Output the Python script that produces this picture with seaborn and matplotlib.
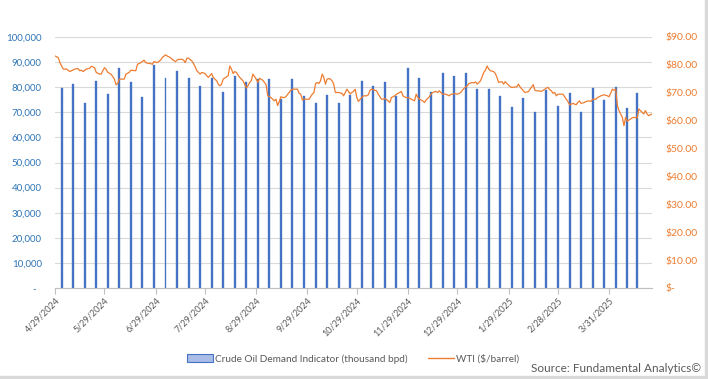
import seaborn as sns
import matplotlib.pyplot as plt
from matplotlib.patches import Patch, Rectangle
from matplotlib.lines import Line2D
import pandas as pd

# weekly crude oil demand indicator (thousand bpd)
demand_dates = [
    "2024-05-03", "2024-05-10", "2024-05-17", "2024-05-24", "2024-05-31",
    "2024-06-07", "2024-06-14", "2024-06-21", "2024-06-28", "2024-07-05",
    "2024-07-12", "2024-07-19", "2024-07-26", "2024-08-02", "2024-08-09",
    "2024-08-16", "2024-08-23", "2024-08-30", "2024-09-06", "2024-09-13",
    "2024-09-20", "2024-09-27", "2024-10-04", "2024-10-11", "2024-10-18",
    "2024-10-25", "2024-11-01", "2024-11-08", "2024-11-15", "2024-11-22",
    "2024-11-29", "2024-12-06", "2024-12-13", "2024-12-20", "2024-12-27",
    "2025-01-03", "2025-01-10", "2025-01-17", "2025-01-24", "2025-01-31",
    "2025-02-07", "2025-02-14", "2025-02-21", "2025-02-28", "2025-03-07",
    "2025-03-14", "2025-03-21", "2025-03-28", "2025-04-04", "2025-04-11",
    "2025-04-17",
]
demand_values = [
    79500, 81100, 73700, 82300, 77200, 87700, 81900, 76000, 88900, 83800,
    86600, 83800, 80300, 83800, 78000, 84600, 81900, 83100, 83400, 75300,
    83400, 76400, 73700, 76800, 73700, 76800, 82300, 80300, 81900, 76400,
    87700, 83800, 78000, 85800, 84600, 85800, 79100, 79100, 76400, 72100,
    75600, 70100, 78700, 72500, 77600, 70100, 79500, 74800, 79900, 71700,
    77600,
]

# WTI ($/barrel)
wti_dates = [
    "2024-04-29", "2024-05-01", "2024-05-02", "2024-05-04", "2024-05-06", "2024-05-08",
    "2024-05-09", "2024-05-11", "2024-05-13", "2024-05-14", "2024-05-15", "2024-05-16",
    "2024-05-18", "2024-05-20", "2024-05-21", "2024-05-23", "2024-05-24", "2024-05-26",
    "2024-05-27", "2024-05-28", "2024-05-29", "2024-05-30", "2024-05-31", "2024-06-02",
    "2024-06-04", "2024-06-05", "2024-06-06", "2024-06-07", "2024-06-10", "2024-06-11",
    "2024-06-13", "2024-06-14", "2024-06-17", "2024-06-18", "2024-06-20", "2024-06-22",
    "2024-06-23", "2024-06-25", "2024-06-26", "2024-06-27", "2024-06-28", "2024-06-30",
    "2024-07-02", "2024-07-03", "2024-07-05", "2024-07-06", "2024-07-08", "2024-07-09",
    "2024-07-11", "2024-07-12", "2024-07-13", "2024-07-15", "2024-07-16", "2024-07-17",
    "2024-07-18", "2024-07-19", "2024-07-21", "2024-07-22", "2024-07-23", "2024-07-24",
    "2024-07-26", "2024-07-27", "2024-07-29", "2024-07-30", "2024-07-31", "2024-08-02",
    "2024-08-03", "2024-08-05", "2024-08-06", "2024-08-07", "2024-08-08", "2024-08-09",
    "2024-08-11", "2024-08-12", "2024-08-13", "2024-08-14", "2024-08-15", "2024-08-16",
    "2024-08-17", "2024-08-19", "2024-08-21", "2024-08-22", "2024-08-23", "2024-08-24",
    "2024-08-25", "2024-08-26", "2024-08-27", "2024-08-29", "2024-08-30", "2024-08-31",
    "2024-09-02", "2024-09-03", "2024-09-04", "2024-09-05", "2024-09-07", "2024-09-08",
    "2024-09-09", "2024-09-10", "2024-09-11", "2024-09-12", "2024-09-13", "2024-09-14",
    "2024-09-15", "2024-09-16", "2024-09-18", "2024-09-19", "2024-09-20", "2024-09-22",
    "2024-09-23", "2024-09-24", "2024-09-25", "2024-09-26", "2024-09-27", "2024-09-29",
    "2024-09-30", "2024-10-01", "2024-10-02", "2024-10-03", "2024-10-04", "2024-10-05",
    "2024-10-06", "2024-10-07", "2024-10-08", "2024-10-09", "2024-10-10", "2024-10-11",
    "2024-10-12", "2024-10-13", "2024-10-14", "2024-10-15", "2024-10-16", "2024-10-18",
    "2024-10-20", "2024-10-21", "2024-10-22", "2024-10-23", "2024-10-25", "2024-10-26",
    "2024-10-27", "2024-10-28", "2024-10-29", "2024-10-30", "2024-11-01", "2024-11-02",
    "2024-11-04", "2024-11-05", "2024-11-06", "2024-11-07", "2024-11-09", "2024-11-10",
    "2024-11-11", "2024-11-13", "2024-11-14", "2024-11-15", "2024-11-17", "2024-11-18",
    "2024-11-19", "2024-11-21", "2024-11-22", "2024-11-24", "2024-11-25", "2024-11-26",
    "2024-11-27", "2024-11-28", "2024-11-30", "2024-12-01", "2024-12-03", "2024-12-04",
    "2024-12-05", "2024-12-06", "2024-12-08", "2024-12-09", "2024-12-10", "2024-12-12",
    "2024-12-13", "2024-12-14", "2024-12-16", "2024-12-17", "2024-12-18", "2024-12-20",
    "2024-12-22", "2024-12-24", "2024-12-25", "2024-12-27", "2024-12-29", "2024-12-31",
    "2025-01-01", "2025-01-02", "2025-01-04", "2025-01-05", "2025-01-07", "2025-01-08",
    "2025-01-09", "2025-01-10", "2025-01-12", "2025-01-13", "2025-01-14", "2025-01-15",
    "2025-01-16", "2025-01-17", "2025-01-18", "2025-01-20", "2025-01-21", "2025-01-22",
    "2025-01-23", "2025-01-25", "2025-01-26", "2025-01-27", "2025-01-28", "2025-01-30",
    "2025-01-31", "2025-02-02", "2025-02-03", "2025-02-04", "2025-02-05", "2025-02-07",
    "2025-02-08", "2025-02-10", "2025-02-12", "2025-02-13", "2025-02-14", "2025-02-15",
    "2025-02-16", "2025-02-18", "2025-02-19", "2025-02-21", "2025-02-22", "2025-02-23",
    "2025-02-24", "2025-02-25", "2025-02-26", "2025-02-27", "2025-02-28", "2025-03-03",
    "2025-03-04", "2025-03-05", "2025-03-06", "2025-03-07", "2025-03-08", "2025-03-09",
    "2025-03-11", "2025-03-12", "2025-03-13", "2025-03-14", "2025-03-16", "2025-03-17",
    "2025-03-19", "2025-03-20", "2025-03-21", "2025-03-23", "2025-03-24", "2025-03-26",
    "2025-03-28", "2025-03-30", "2025-03-31", "2025-04-02", "2025-04-03", "2025-04-04",
    "2025-04-05", "2025-04-06", "2025-04-08", "2025-04-09", "2025-04-10", "2025-04-11",
    "2025-04-12", "2025-04-14", "2025-04-15", "2025-04-17", "2025-04-18", "2025-04-19",
    "2025-04-20", "2025-04-21", "2025-04-22", "2025-04-23", "2025-04-24", "2025-04-26",
]
wti_price = [
    83.2, 82.6, 80.8, 78.5, 78.5, 77.6,
    77.9, 78.5, 78.7, 77.9, 78.1, 77.6,
    78.5, 78.8, 79.5, 79.0, 77.3, 76.7,
    76.7, 77.9, 79.0, 78.4, 77.3, 76.7,
    74.9, 72.9, 73.3, 74.9, 74.9, 76.7,
    77.3, 78.1, 77.9, 80.2, 80.8, 81.7,
    80.8, 80.5, 80.5, 80.2, 81.2, 80.8,
    81.7, 82.6, 83.6, 83.2, 82.6, 82.0,
    81.2, 81.7, 82.0, 82.0, 81.7, 80.8,
    82.4, 82.4, 81.4, 80.5, 79.3, 77.9,
    76.7, 77.3, 76.9, 76.1, 75.5, 76.9,
    75.5, 74.3, 73.1, 72.5, 73.1, 74.9,
    75.7, 76.1, 79.6, 78.5, 76.9, 77.6,
    77.3, 75.5, 74.3, 73.1, 71.7, 72.5,
    73.7, 74.3, 76.7, 74.9, 73.7, 75.2,
    74.5, 73.7, 72.9, 68.9, 68.3, 67.7,
    67.1, 67.7, 65.4, 66.9, 68.6, 68.3,
    68.3, 68.6, 70.1, 70.9, 71.3, 71.3,
    71.3, 69.8, 69.5, 67.4, 67.7, 67.7,
    67.7, 68.6, 69.5, 70.1, 73.3, 73.7,
    73.3, 74.3, 76.7, 75.5, 73.1, 74.9,
    75.1, 74.9, 74.3, 73.1, 70.1, 70.1,
    69.8, 68.9, 70.1, 71.3, 69.6, 70.1,
    70.5, 71.3, 68.3, 66.9, 68.3, 68.9,
    68.9, 69.3, 70.9, 71.3, 70.9, 70.7,
    69.5, 67.7, 67.7, 68.0, 67.1, 66.5,
    68.3, 68.9, 69.5, 70.1, 70.5, 68.9,
    68.5, 68.3, 68.1, 67.7, 67.1, 69.5,
    68.3, 67.7, 67.1, 66.5, 67.4, 68.6,
    69.5, 70.1, 70.5, 70.1, 70.7, 69.5,
    69.5, 68.9, 69.4, 69.7, 69.5, 70.1,
    70.9, 71.6, 72.5, 73.3, 73.7, 73.5,
    73.9, 73.1, 74.3, 75.7, 77.3, 78.1,
    79.6, 78.5, 77.9, 77.6, 76.9, 75.5,
    73.7, 74.0, 73.1, 74.0, 73.3, 72.2,
    71.9, 72.1, 72.1, 73.1, 72.1, 70.7,
    70.1, 70.4, 72.1, 72.9, 70.9, 70.7,
    70.7, 70.5, 70.9, 71.7, 71.9, 71.1,
    70.7, 69.8, 70.1, 68.9, 69.5, 69.5,
    68.6, 67.7, 66.9, 65.7, 65.9, 66.2,
    65.7, 66.5, 67.1, 66.2, 66.5, 66.9,
    67.1, 66.9, 67.7, 67.7, 68.3, 68.9,
    69.3, 68.9, 68.6, 71.3, 70.9, 71.3,
    65.4, 63.6, 61.2, 58.2, 61.2, 59.8,
    60.2, 61.0, 61.2, 60.9, 64.2, 63.6,
    63.0, 62.4, 63.6, 62.4, 61.8, 62.4,
]

tick_dates = [
    "2024-04-29", "2024-05-29", "2024-06-29", "2024-07-29", "2024-08-29", "2024-09-29",
    "2024-10-29", "2024-11-29", "2024-12-29", "2025-01-29", "2025-02-28", "2025-03-31",
]
tick_labels = [
    "4/29/2024", "5/29/2024", "6/29/2024", "7/29/2024", "8/29/2024", "9/29/2024",
    "10/29/2024", "11/29/2024", "12/29/2024", "1/29/2025", "2/28/2025", "3/31/2025",
]
left_ticks = [0, 10000, 20000, 30000, 40000, 50000, 60000, 70000, 80000, 90000, 100000]
right_ticks = [0, 10, 20, 30, 40, 50, 60, 70, 80, 90]

sns.set_style("white")
plt.rcParams["font.family"] = ["Lato", "DejaVu Sans"]

blue = "#4472C4"
orange = "#ED7D31"
grey = "#595959"

fig = plt.figure(figsize=(7.08, 3.79), dpi=100)
ax = fig.add_axes([55 / 708, 1 - 288 / 379, 597 / 708, 251 / 379])

ax.bar(pd.to_datetime(demand_dates), demand_values, width=1.2,
       color=blue, edgecolor=blue, linewidth=0.25, zorder=2)

ax2 = ax.twinx()
sns.lineplot(x=pd.to_datetime(wti_dates), y=wti_price, ax=ax2, color=orange, linewidth=0.9)

ax.set_ylim(0, 100000)
ax.set_yticks(left_ticks)
ax.set_yticklabels(["-  "] + [f"{v:,}" for v in left_ticks[1:]])
ax.yaxis.grid(True, color="#d9d9d9", linewidth=0.8)
ax.set_axisbelow(True)
ax.tick_params(axis="y", length=0, pad=9.5, labelsize=7, labelcolor="#2E75B6")

ax2.set_ylim(0, 90)
ax2.set_yticks(right_ticks)
ax2.set_yticklabels(["$-"] + [f"${v:.2f}" for v in right_ticks[1:]])
ax2.tick_params(axis="y", length=0, pad=9.5, labelsize=7.5, labelcolor=orange)
ax2.grid(False)
ax2.set_ylabel("")

ax.set_xlim(pd.Timestamp("2024-04-29"), pd.Timestamp("2025-04-26"))
ax.set_xticks(pd.to_datetime(tick_dates))
ax.set_xticklabels(tick_labels, rotation=45, ha="right", rotation_mode="anchor")
ax.tick_params(axis="x", length=4, width=0.8, color="#bfbfbf", pad=2,
               labelsize=6.5, labelcolor=grey, bottom=True)
ax.set_xlabel("")

for s in ["top", "left", "right"]:
    ax.spines[s].set_visible(False)
    ax2.spines[s].set_visible(False)
ax2.spines["bottom"].set_visible(False)
ax.spines["bottom"].set_color("#bfbfbf")
ax.spines["bottom"].set_linewidth(0.8)

handles = [
    Patch(facecolor="#a9bde6", edgecolor=blue, linewidth=0.8),
    Line2D([0], [0], color=orange, linewidth=1),
]
fig.legend(handles, ["Crude Oil Demand Indicator (thousand bpd)", "WTI ($/barrel)"],
           loc="center", bbox_to_anchor=(353 / 708, 1 - 359 / 379), ncol=2,
           frameon=False, fontsize=7.2, labelcolor=grey, handlelength=2.6,
           handleheight=0.8, columnspacing=2.0, handletextpad=0.25)

fig.text(701 / 708, 1 - 368 / 379, "Source: Fundamental Analytics©",
         ha="right", va="center", fontsize=8.5, color=grey)

# light grey frame on the right and bottom edges
fig.add_artist(Rectangle((0, 0), 1, 3 / 379, transform=fig.transFigure,
                         color="#d9d9d9", zorder=0))
fig.add_artist(Rectangle((705 / 708, 0), 3 / 708, 1, transform=fig.transFigure,
                         color="#d9d9d9", zorder=0))

fig.savefig("out.png", dpi=100)
